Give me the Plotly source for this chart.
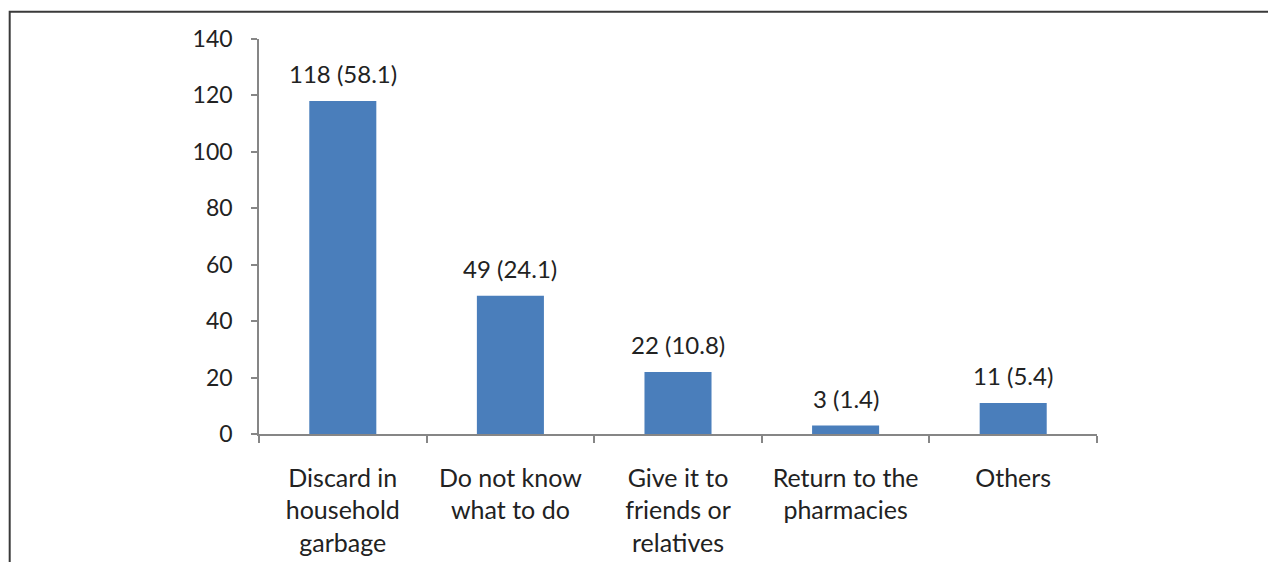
import plotly.graph_objects as go

categories = ["Discard in<br>household<br>garbage", "Do not know<br>what to do",
              "Give it to<br>friends or<br>relatives", "Return to the<br>pharmacies", "Others"]
counts = [118, 49, 22, 3, 11]
percents = [58.1, 24.1, 10.8, 1.4, 5.4]
labels = [f"{c} ({p})" for c, p in zip(counts, percents)]
y_ticks = [0, 20, 40, 60, 80, 100, 120, 140]

FONT = "Lato, Carlito, Calibri, sans-serif"
TXT = "#222222"
AX = "#868686"

fig = go.Figure(go.Bar(x=categories, y=counts, marker=dict(color="#4a7ebb", line=dict(width=0)),
                       width=0.4))

for c, v, t in zip(categories, counts, labels):
    fig.add_annotation(x=c, y=v, text=t, showarrow=False, yanchor="bottom", yshift=11,
                       font=dict(family=FONT, size=24, color=TXT))

fig.add_shape(type="rect", xref="paper", yref="paper", x0=-0.2975, x1=1.3, y0=-0.6, y1=1.069,
              line=dict(color="#3a3a3a", width=2), layer="above")

fig.update_layout(
    width=1268, height=562,
    margin=dict(l=259, r=171, t=39, b=128),
    paper_bgcolor="white", plot_bgcolor="white",
    showlegend=False,
    font=dict(family=FONT, size=23, color=TXT),
    xaxis=dict(showline=True, linecolor=AX, linewidth=1.5, ticks="outside", tickson="boundaries",
               ticklen=7, tickcolor=AX, tickwidth=1.5, showgrid=False, automargin=False,
               tickfont=dict(family=FONT, size=25, color=TXT), ticklabelstandoff=21),
    yaxis=dict(range=[0, 140], tickvals=y_ticks, showline=True, linecolor=AX, linewidth=1.5,
               ticks="outside", ticklen=6, tickcolor=AX, tickwidth=1.5, showgrid=False,
               zeroline=False, automargin=False, tickfont=dict(family=FONT, size=23, color=TXT),
               ticklabelstandoff=14),
)

fig.write_html("out.html")
